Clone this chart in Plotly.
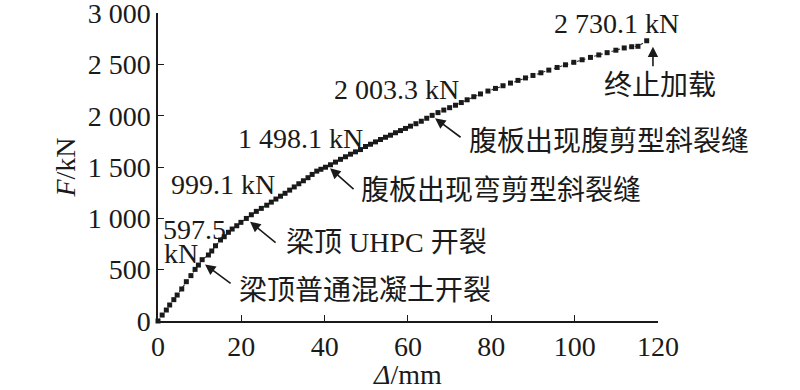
import plotly.graph_objects as go

# Load-deflection data
delta_mm = [0, 1.0, 2.0, 2.8, 3.8, 4.6, 5.7, 6.8, 7.9, 8.9, 9.7, 10.6, 12.1, 12.9, 13.8, 15.0,
            15.9, 16.9, 17.8, 18.9, 19.9, 21.2, 22.4, 23.6, 24.8, 26.1, 27.2, 28.3, 29.4, 30.5,
            31.6, 32.7, 33.8, 34.9, 36.0, 37.0, 38.1, 39.1, 40.2, 41.4, 42.6, 43.8, 45.0, 46.2,
            47.4, 48.6, 49.8, 51.0, 52.2, 53.4, 54.6, 55.8, 57.0, 58.2, 59.4, 60.6, 61.9, 63.2,
            64.5, 65.8, 67.2, 68.6, 70.0, 71.4, 72.8, 74.2, 75.8, 77.4, 79.2, 81.0, 82.8, 84.6,
            86.4, 88.2, 90.0, 91.9, 93.8, 95.8, 97.8, 99.8, 101.8, 103.8, 105.8, 107.8, 109.9,
            111.9, 113.7, 115.2, 117.3]
force_kN = [0, 58, 107, 156, 208, 253, 312, 383, 442, 503, 545, 597.5, 643, 682, 733, 789,
            821, 864, 896, 928, 961, 999.1, 1035, 1068, 1097, 1128, 1158, 1188, 1216, 1244,
            1275, 1306, 1337, 1366, 1396, 1428, 1460, 1478, 1498.1, 1522, 1548, 1575, 1600, 1625,
            1648, 1670, 1700, 1722, 1745, 1768, 1790, 1810, 1834, 1855, 1876, 1898, 1922, 1946,
            1975, 2003.3, 2030, 2055, 2078, 2102, 2128, 2155, 2185, 2212, 2240, 2266, 2292, 2318,
            2344, 2368, 2392, 2418, 2444, 2470, 2496, 2520, 2545, 2568, 2592, 2614, 2638,
            2660, 2672, 2676, 2730.1]

x_ticks = [0, 20, 40, 60, 80, 100, 120]
y_ticks = [0, 500, 1000, 1500, 2000, 2500, 3000]
y_tick_text = ["0", "500", "1 000", "1 500", "2 000", "2 500", "3 000"]

FONT = "Liberation Serif, Noto Sans CJK SC, serif"
FS = 28

fig = go.Figure()
fig.add_trace(go.Scatter(
    x=delta_mm, y=force_kN, mode="lines+markers",
    line=dict(color="#333333", width=1.1, dash="dot"),
    marker=dict(symbol="square", size=5, color="#1a1a1a"),
    cliponaxis=False, showlegend=False, hoverinfo="skip"))

# value labels (no arrows)
labels = [
    (0.9, 896, "597.5"),
    (1.1, 653, "kN"),
    (2.9, 1325, "999.1 kN"),
    (19.0, 1782, "1 498.1 kN"),
    (42.0, 2260, "2 003.3 kN"),
    (94.8, 2903, "2 730.1 kN"),
    (106.8, 2299, "终止加载"),
    (74.4, 1746, "腹板出现腹剪型斜裂缝"),
    (48.5, 1276, "腹板出现弯剪型斜裂缝"),
    (30.5, 760, "梁顶 UHPC 开裂"),
    (19.2, 302, "梁顶普通混凝土开裂"),
]
for x, y, t in labels:
    fig.add_annotation(x=x, y=y, text=t, showarrow=False, xanchor="left", yanchor="middle",
                       font=dict(family=FONT, size=FS, color="#1a1a1a"), borderpad=0)

# arrows (tip in data coords, tail offset in pixels)
arrows = [
    (11.3, 550, 27, 20),
    (22.1, 967, 27, 22),
    (41.3, 1487, 25, 22),
    (66.5, 1974, 27, 20),
    (118.8, 2672, 0, 21),
]
for x, y, ax, ay in arrows:
    fig.add_annotation(x=x, y=y, ax=ax, ay=ay, text="", showarrow=True,
                       arrowhead=2, arrowsize=1.3, arrowwidth=1.6, arrowcolor="#1a1a1a")

axis_common = dict(showgrid=False, zeroline=False, showline=True, linecolor="#1a1a1a",
                   linewidth=1.5, ticks="inside", ticklen=6, tickwidth=1.2, tickcolor="#1a1a1a",
                   tickfont=dict(family=FONT, size=FS, color="#1a1a1a"), mirror=False,
                   automargin=False, ticklabeloverflow="allow")

fig.update_layout(
    width=800, height=390,
    margin=dict(l=158, r=142, t=13, b=69),
    paper_bgcolor="white", plot_bgcolor="white",
    xaxis=dict(range=[0, 120.01], tickvals=x_ticks, ticktext=[str(v) for v in x_ticks],
               title=dict(text="<i>Δ</i>/mm", font=dict(family=FONT, size=FS, color="#1a1a1a"),
                          standoff=2), **axis_common),
    yaxis=dict(range=[0, 3000.5], tickvals=y_ticks, ticktext=y_tick_text,
               title=dict(text="<i>F</i>/kN", font=dict(family=FONT, size=FS, color="#1a1a1a"),
                          standoff=4), **axis_common),
)

fig.write_html("out.html", config={"displayModeBar": False},
               post_script="document.body.style.margin='0';")
